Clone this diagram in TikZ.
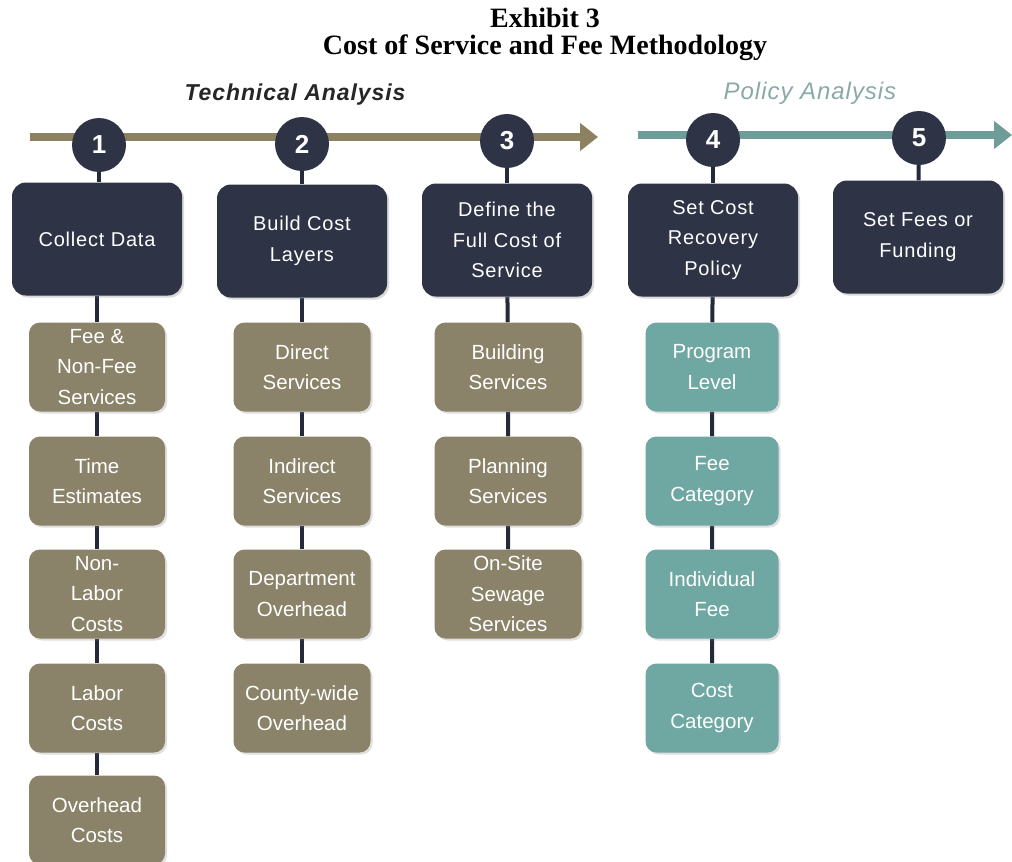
\documentclass[tikz,border=0pt]{standalone}
\usepackage{fontspec}
\setmainfont{Liberation Serif}
\newfontfamily\arialf{Liberation Sans}
\newfontfamily\arialsp[LetterSpace=4]{Liberation Sans}
\usetikzlibrary{shadows,backgrounds,arrows.meta}
\definecolor{navy}{HTML}{2E3346}
\definecolor{olivebox}{HTML}{8A8369}
\definecolor{tealbox}{HTML}{6FA7A3}
\definecolor{oliveline}{HTML}{8C8160}
\definecolor{tealline}{HTML}{6E9D99}
\definecolor{policyc}{HTML}{8AA9A6}
\definecolor{conn}{HTML}{252A3A}
\tikzset{
  mainbox/.style={fill=navy, rounded corners=14pt, minimum width=170pt, minimum height=113pt,
    text=white, align=center, font=\arialsp\fontsize{20}{30.5}\selectfont,
    drop shadow={opacity=0.3, shadow xshift=2pt, shadow yshift=-2pt}},
  subbox/.style={rounded corners=11pt, minimum height=89pt,
    text=white, align=center, font=\arialf\fontsize{20.5}{30.5}\selectfont,
    drop shadow={opacity=0.25, shadow xshift=2pt, shadow yshift=-2pt}},
  olivesub/.style={subbox, fill=olivebox},
  tealsub/.style={subbox, fill=tealbox},
  stepnum/.style={circle, fill=navy, minimum size=54pt, inner sep=0pt, text=white,
    font=\arialf\bfseries\fontsize{26}{26}\selectfont},
  conline/.style={draw=conn, line width=4pt},
}
\begin{document}
\begin{tikzpicture}[x=1pt,y=-1pt]
\useasboundingbox (0,0) rectangle (1012,862);
% title
\node[font=\bfseries\fontsize{28}{27}\selectfont, align=center, inner sep=0pt] (title) at (545,34) {Exhibit 3\\Cost of Service and Fee Methodology};
\node[font=\arialsp\bfseries\itshape\fontsize{23}{26}\selectfont, text=black!85] (ta) at (295,95) {Technical Analysis};
\node[font=\arialsp\itshape\fontsize{24}{26}\selectfont, text=policyc] (pa) at (810,93) {Policy Analysis};
% timeline arrows
\coordinate (a1s) at (30,137);
\coordinate (a1e) at (598,137);
\coordinate (a2s) at (638,135);
\coordinate (a2e) at (1012,135);
\draw[oliveline, line width=8pt, -{Triangle[length=18pt,width=27pt]}] (a1s) -- (a1e);
\draw[tealline, line width=8pt, -{Triangle[length=18pt,width=27pt]}] (a2s) -- (a2e);
% step circles
\node[stepnum] (c1) at (99,145) {1};
\node[stepnum] (c2) at (302,144) {2};
\node[stepnum] (c3) at (507,141) {3};
\node[stepnum] (c4) at (713,140) {4};
\node[stepnum] (c5) at (919,138) {5};
% main boxes
\node[mainbox] (m1) at (97,239) {Collect Data};
\node[mainbox] (m2) at (302,241) {Build Cost\\Layers};
\node[mainbox] (m3) at (507,240) {Define the\\Full Cost of\\Service};
\node[mainbox] (m4) at (713,240) {Set Cost\\Recovery\\Policy};
\node[mainbox] (m5) at (918,237) {Set Fees or\\Funding};
% column 1
\node[olivesub, minimum width=136pt] (s11) at (97,367) {Fee \&\\Non-Fee\\Services};
\node[olivesub, minimum width=136pt] (s12) at (97,481) {Time\\Estimates};
\node[olivesub, minimum width=136pt] (s13) at (97,594) {Non-\\Labor\\Costs};
\node[olivesub, minimum width=136pt] (s14) at (97,708) {Labor\\Costs};
\node[olivesub, minimum width=136pt] (s15) at (97,820) {Overhead\\Costs};
% column 2
\node[olivesub, minimum width=137pt] (s21) at (302,367) {Direct\\Services};
\node[olivesub, minimum width=137pt] (s22) at (302,481) {Indirect\\Services};
\node[olivesub, minimum width=137pt] (s23) at (302,594) {Department\\Overhead};
\node[olivesub, minimum width=137pt] (s24) at (302,708) {County-wide\\Overhead};
% column 3
\node[olivesub, minimum width=147pt] (s31) at (508,367) {Building\\Services};
\node[olivesub, minimum width=147pt] (s32) at (508,481) {Planning\\Services};
\node[olivesub, minimum width=147pt] (s33) at (508,594) {On-Site\\Sewage\\Services};
% column 4
\node[tealsub, minimum width=133pt] (s41) at (712,367) {Program\\Level};
\node[tealsub, minimum width=133pt] (s42) at (712,481) {Fee\\Category};
\node[tealsub, minimum width=133pt] (s43) at (712,594) {Individual\\Fee};
\node[tealsub, minimum width=133pt] (s44) at (712,708) {Cost\\Category};
% connectors
\begin{pgfonlayer}{background}
\draw[conline] (c1) -- (m1.north -| c1);
\draw[conline] (c2) -- (m2);
\draw[conline] (c3) -- (m3);
\draw[conline] (c4) -- (m4);
\draw[conline] (c5) -- (m5);
\draw[conline] (m1) -- (s11) -- (s12) -- (s13) -- (s14) -- (s15);
\draw[conline] (m2) -- (s21) -- (s22) -- (s23) -- (s24);
\draw[conline] (m3) -- (s31) -- (s32) -- (s33);
\draw[conline] (m4) -- (s41) -- (s42) -- (s43) -- (s44);
\end{pgfonlayer}
\end{tikzpicture}
\end{document}
